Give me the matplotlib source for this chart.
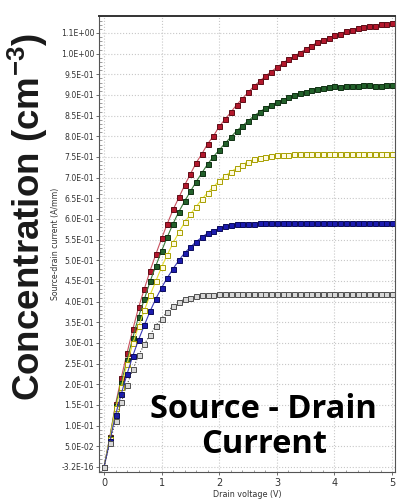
import numpy as np
import matplotlib
matplotlib.use("Agg")
import matplotlib.pyplot as plt
from matplotlib.ticker import MultipleLocator

plt.rcParams['mathtext.fontset'] = 'custom'
plt.rcParams['mathtext.rm'] = 'Liberation Sans'
plt.rcParams['mathtext.bf'] = 'Liberation Sans:bold'

# ---------------------------------------------------------------------------
# Data (drain voltage in V, current in A/mm)
# ---------------------------------------------------------------------------
drain_v = [round(0.1 * k, 1) for k in range(51)]

i_red = [0.000, 0.072, 0.152, 0.216, 0.276, 0.333, 0.386, 0.431, 0.475, 0.515,
         0.553, 0.589, 0.623, 0.652, 0.682, 0.709, 0.736, 0.758, 0.782, 0.801,
         0.824, 0.841, 0.858, 0.876, 0.891, 0.906, 0.921, 0.933, 0.946, 0.956,
         0.967, 0.977, 0.986, 0.994, 1.002, 1.011, 1.019, 1.027, 1.032, 1.037,
         1.044, 1.048, 1.054, 1.057, 1.061, 1.064, 1.067, 1.068, 1.071, 1.072,
         1.073]

i_green = [0.000, 0.070, 0.148, 0.204, 0.259, 0.313, 0.364, 0.406, 0.449, 0.487,
           0.523, 0.557, 0.589, 0.618, 0.643, 0.667, 0.690, 0.712, 0.733, 0.751,
           0.767, 0.783, 0.798, 0.813, 0.825, 0.837, 0.849, 0.859, 0.868, 0.876,
           0.882, 0.888, 0.894, 0.900, 0.904, 0.908, 0.912, 0.915, 0.918, 0.919,
           0.921, 0.920, 0.922, 0.922, 0.921, 0.923, 0.923, 0.922, 0.922, 0.923,
           0.924]

i_yellow = [0.000, 0.068, 0.142, 0.193, 0.250, 0.299, 0.341, 0.379, 0.416, 0.450,
            0.484, 0.514, 0.542, 0.568, 0.592, 0.612, 0.630, 0.648, 0.664, 0.678,
            0.692, 0.704, 0.714, 0.723, 0.731, 0.739, 0.744, 0.747, 0.750, 0.752,
            0.754, 0.755, 0.755, 0.756, 0.756, 0.756, 0.756, 0.756, 0.757, 0.757,
            0.756, 0.757, 0.757, 0.757, 0.757, 0.757, 0.757, 0.757, 0.757, 0.757,
            0.757]

i_blue = [0.000, 0.062, 0.126, 0.177, 0.225, 0.269, 0.308, 0.343, 0.377, 0.407,
          0.434, 0.458, 0.480, 0.500, 0.518, 0.532, 0.545, 0.556, 0.566, 0.572,
          0.577, 0.582, 0.585, 0.587, 0.588, 0.588, 0.589, 0.590, 0.590, 0.590,
          0.591, 0.591, 0.590, 0.591, 0.591, 0.591, 0.591, 0.591, 0.591, 0.591,
          0.591, 0.591, 0.591, 0.591, 0.591, 0.591, 0.591, 0.591, 0.591, 0.591,
          0.591]

i_gray = [0.000, 0.058, 0.112, 0.157, 0.199, 0.236, 0.270, 0.297, 0.320, 0.342,
          0.359, 0.376, 0.389, 0.399, 0.406, 0.410, 0.413, 0.415, 0.416, 0.417,
          0.418, 0.418, 0.418, 0.418, 0.418, 0.418, 0.418, 0.418, 0.418, 0.418,
          0.418, 0.418, 0.418, 0.418, 0.418, 0.418, 0.418, 0.418, 0.418, 0.418,
          0.418, 0.418, 0.418, 0.418, 0.418, 0.418, 0.418, 0.418, 0.418, 0.418,
          0.418]

x_ticks = [0, 1, 2, 3, 4, 5]
y_ticks = [0.05 * k for k in range(22)]
y_tick_labels = ['-3.2E-16', '5.0E-02', '1.0E-01', '1.5E-01', '2.0E-01', '2.5E-01',
                 '3.0E-01', '3.5E-01', '4.0E-01', '4.5E-01', '5.0E-01', '5.5E-01',
                 '6.0E-01', '6.5E-01', '7.0E-01', '7.5E-01', '8.0E-01', '8.5E-01',
                 '9.0E-01', '9.5E-01', '1.0E+00', '1.1E+00']

# (values, line colour, line style, marker fill, marker edge)
series = [
    (i_red,    '#c8505e', '-', '#b3172c', '#5e0c16'),
    (i_green,  '#3a7a3a', '-', '#22602a', '#0f3012'),
    (i_yellow, '#e6e030', '-', '#fffbe0', '#a8a000'),
    (i_blue,   '#3a3ab8', '-', '#1b1bae', '#0a0a5c'),
    (i_gray,   '#404040', ':', '#d8d8d8', '#505050'),
]

# ---------------------------------------------------------------------------
# Figure
# ---------------------------------------------------------------------------
fig = plt.figure(figsize=(4.0, 5.01), dpi=100)
ax = fig.add_axes([0.2475, 0.058, 0.74, 0.91])

for vals, lc, ls, fc, ec in series:
    ax.plot(drain_v, vals, color=lc, linestyle=ls, linewidth=0.8,
            marker='s', markersize=3.6, markerfacecolor=fc,
            markeredgecolor=ec, markeredgewidth=0.7)

ax.set_xlim(-0.087, 5.05)
ax.set_ylim(-0.012, 1.091)
ax.set_xticks(x_ticks)
ax.set_yticks(y_ticks)
ax.set_yticklabels(y_tick_labels)
ax.xaxis.set_minor_locator(MultipleLocator(0.2))
ax.yaxis.set_minor_locator(MultipleLocator(0.01))

ax.tick_params(axis='both', which='major', direction='out', length=2.5,
               width=0.6, colors='#555555', labelcolor='#333333')
ax.tick_params(axis='x', which='major', labelsize=7, pad=2)
ax.tick_params(axis='y', which='major', labelsize=5.6, pad=1)
ax.tick_params(axis='both', which='minor', direction='in', length=1.8,
               width=0.5, colors='#777777')

ax.grid(True, which='major', color='#c8c8c8', linestyle=':', linewidth=0.8)
for side in ['left', 'right', 'bottom']:
    ax.spines[side].set_color('#555555')
    ax.spines[side].set_linewidth(0.8)
ax.spines['top'].set_color('#333333')
ax.spines['top'].set_linewidth(1.4)

ax.set_xlabel('Drain voltage (V)', fontsize=5.8, color='#333333', labelpad=1)
ax.set_ylabel('Source-drain current (A/mm)', fontsize=5.6, color='#333333',
              labelpad=0.3)

# overlay label text (gridlines show through it)
ax.text(0.557, 0.099, 'Source - Drain\nCurrent', transform=ax.transAxes,
        ha='center', va='center', fontsize=23.5, fontweight='bold',
        family='Open Sans', linespacing=1.08, color='black')

# big cropped axis title on the far left
fig.text(0.068, 0.566, 'Concentration (cm$^{\\mathbf{-3}}$)', rotation=90,
         ha='center', va='center', fontsize=26.5, fontweight='bold',
         family='Liberation Sans', color='#1a1a1a')

fig.savefig('out.png', dpi=100)
